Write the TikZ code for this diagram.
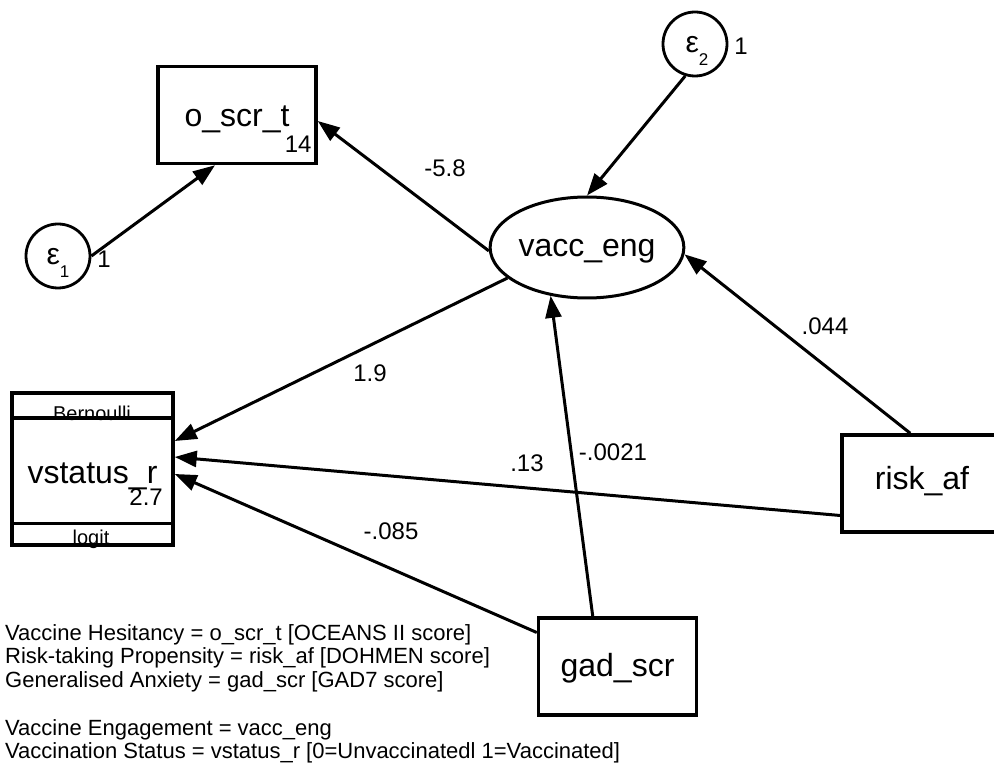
\documentclass[tikz,border=0pt]{standalone}
\usepackage{fontspec}
\setmainfont{Liberation Sans}
\usetikzlibrary{shapes.geometric,arrows.meta,calc}
\begin{document}
\begin{tikzpicture}[x=1pt,y=-1pt,
  big/.style={font=\fontsize{32}{38}\selectfont},
  box/.style={draw,line width=3.5pt,rectangle,inner sep=0pt,minimum width=158pt,minimum height=97pt,big,text depth=0pt},
  errc/.style={draw,line width=2.8pt,circle,inner sep=0pt,minimum size=64pt},
  lbl/.style={font=\fontsize{24}{28}\selectfont,inner sep=0pt},
  legend/.style={font=\fontsize{22}{26}\selectfont,anchor=base west,inner sep=0pt},
  path/.style={line width=3pt,-{Triangle[length=22pt,width=16pt]}}
]
\fill[white] (0,0) rectangle (994,783);
\clip (0,0) rectangle (994,783);

% nodes
\node[box,text height=24pt] (o) at (237,115) {o\_scr\_t};
\node[lbl,anchor=base east] (o14) at ($(o.south east)+(-6,-13)$) {14};

\node[errc] (e1) at (58,256) {};
\node[anchor=base,inner sep=0pt] (e1t) at (58,265) {\fontsize{30}{32}\selectfont ε\raisebox{-13pt}{\fontsize{17}{20}\selectfont 1}};
\node[lbl,anchor=center] (e1one) at (104,259) {1};

\node[errc] (e2) at (695,44) {};
\node[anchor=base,inner sep=0pt] (e2t) at (697,53) {\fontsize{30}{32}\selectfont ε\raisebox{-13pt}{\fontsize{17}{20}\selectfont 2}};
\node[lbl,anchor=center] (e2one) at (741,46) {1};

\node[draw,line width=3pt,ellipse,inner sep=0pt,minimum width=158pt,minimum height=101pt,big,text height=19pt,text depth=0pt] (vacc) at (587,247.5) {vacc\_eng};

\node[draw,line width=3.5pt,rectangle,inner sep=0pt,minimum width=161pt,minimum height=152pt,big,text height=29pt,text depth=0pt] (vs) at (92.5,469) {vstatus\_r};
\draw[line width=3.5pt] ($(vs.north west)+(0,27)$) coordinate (d1a) -- ($(vs.north east)+(0,27)$) coordinate (d1b);
\draw[line width=3.5pt] ($(vs.south west)+(0,-23)$) coordinate (d2a) -- ($(vs.south east)+(0,-23)$) coordinate (d2b);
\node[anchor=base,inner sep=0pt,font=\fontsize{20}{22}\selectfont] (bern) at (92,421) {Bernoulli};
\node[anchor=base,inner sep=0pt,font=\fontsize{20}{22}\selectfont] (logit) at (91,544) {logit};
\node[lbl,anchor=base east] (vs27) at (163,506) {2.7};

\node[box,text height=13pt,minimum width=200pt] (risk) at (942,483.5) {\hspace*{-40pt}risk\_af};
\node[box,text height=20pt] (gad) at (617.5,666.5) {gad\_scr};

% paths
\draw[path] (e1.east) -- ($(o.south)+(-22,0)$);
\draw[path] (e2.253) -- (vacc.north);
\draw[path] (vacc.182) -- ($(o.east)+(0,6)$);
\draw[path] ($(risk.north west)+(70,0)$) -- (vacc.-4);
\draw[path] ($(gad.north west)+(56,0)$) -- (vacc.233);
\draw[path] (vacc.201) -- ($(vs.east)+(0,-28)$);
\draw[path] ($(risk.west)+(0,32)$) -- ($(vs.east)+(0,-12)$);
\draw[path] ($(gad.west)+(0,-34)$) -- ($(vs.east)+(0,5)$);

% edge labels
\node[lbl] (l58) at (445,168) {-5.8};
\node[lbl] (l19) at (370,373) {1.9};
\node[lbl] (l13) at (527,463) {.13};
\node[lbl] (l085) at (391,531) {-.085};
\node[lbl] (l044) at (825,326) {.044};
\node[lbl] (l0021) at (613,452) {-.0021};

% legend
\node[legend] (t1) at (5,640) {Vaccine Hesitancy = o\_scr\_t [OCEANS II score]};
\node[legend] (t2) at (5,663.5) {Risk-taking Propensity = risk\_af [DOHMEN score]};
\node[legend] (t3) at (5,687) {Generalised Anxiety = gad\_scr [GAD7 score]};
\node[legend] (t4) at (5,735) {Vaccine Engagement = vacc\_eng};
\node[legend] (t5) at (5,758.5) {Vaccination Status = vstatus\_r [0=Unvaccinatedl 1=Vaccinated]};
\end{tikzpicture}
\end{document}
